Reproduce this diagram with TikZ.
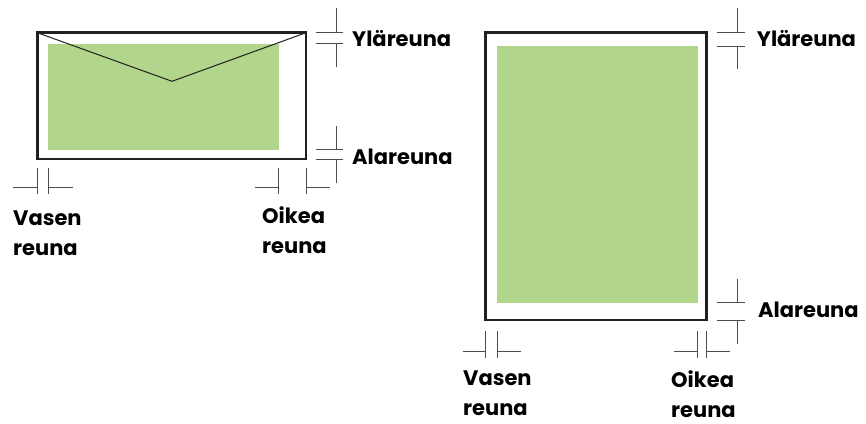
\documentclass[tikz,border=0pt]{standalone}
\usepackage{fontspec}
\setmainfont{Poppins}
\definecolor{pagegreen}{HTML}{B1D58B}
\definecolor{edge}{HTML}{231F20}
\definecolor{tick}{HTML}{4D4D4D}
\begin{document}
\begin{tikzpicture}[x=1pt,y=-1pt,
  sheet/.style={draw=edge,line width=2.5pt},
  printarea/.style={fill=pagegreen},
  flap/.style={draw=edge,line width=1pt},
  dimline/.style={draw=tick,line width=1pt},
  lbl/.style={font=\bfseries\fontsize{21}{30}\selectfont,inner sep=0pt,align=left,text=black}]
\useasboundingbox (0,0) rectangle (866,423);
% ---------- envelope ----------
\fill[printarea] (48.3,43.7) rectangle (278.7,149.7);
\draw[flap] (37.3,32.7) -- (172,81.3) -- (306,32.7);
\draw[sheet] (37.3,32.7) rectangle (306,159);
% top margin
\draw[dimline] (316,32.7) -- (343,32.7) (316,43.7) -- (343,43.7)
  (336.7,8.3) -- (336.7,32.7) (336.7,43.7) -- (336.7,66.7);
% bottom margin
\draw[dimline] (316,149.7) -- (343,149.7) (316,159) -- (343,159)
  (336.7,126) -- (336.7,149.7) (336.7,159) -- (336.7,182.7);
% left margin
\draw[dimline] (37.3,167.7) -- (37.3,194.3) (48.3,167.7) -- (48.3,194.3)
  (13.3,187.7) -- (37.3,187.7) (48.3,187.7) -- (72.7,187.7);
% right margin
\draw[dimline] (278.7,167.7) -- (278.7,194.3) (306,167.7) -- (306,194.3)
  (255,187.7) -- (278.7,187.7) (306,187.7) -- (330,187.7);
\node[lbl,anchor=base west] (envtop) at (352,46.7) {Yläreuna};
\node[lbl,anchor=base west] (envbot) at (352,164) {Alareuna};
\node[lbl,anchor=base west] (envleft) at (13,255) {Vasen\\reuna};
\node[lbl,anchor=base west] (envright) at (262,253) {Oikea\\reuna};
% ---------- page ----------
\fill[printarea] (497.3,46) rectangle (697.7,302.7);
\draw[sheet] (485.7,32.3) rectangle (706.7,320);
\draw[dimline] (717.3,32.3) -- (745,32.3) (717.3,46) -- (745,46)
  (737.7,8.3) -- (737.7,32.3) (737.7,46) -- (737.7,69.3);
\draw[dimline] (717.3,302.7) -- (745,302.7) (717.3,320) -- (745,320)
  (737.7,279) -- (737.7,302.7) (737.7,320) -- (737.7,344);
\draw[dimline] (485.7,331) -- (485.7,357.7) (497.3,331) -- (497.3,357.7)
  (462.7,351) -- (485.7,351) (497.3,351) -- (521,351);
\draw[dimline] (697.7,331) -- (697.7,357.7) (706.7,331) -- (706.7,357.7)
  (674.3,351) -- (697.7,351) (706.7,351) -- (730,351);
\node[lbl,anchor=base west] (pagetop) at (756.7,46.7) {Yläreuna};
\node[lbl,anchor=base west] (pagebot) at (758,317.7) {Alareuna};
\node[lbl,anchor=base west] (pageleft) at (463,415) {Vasen\\reuna};
\node[lbl,anchor=base west] (pageright) at (671,417) {Oikea\\reuna};
\end{tikzpicture}
\end{document}
